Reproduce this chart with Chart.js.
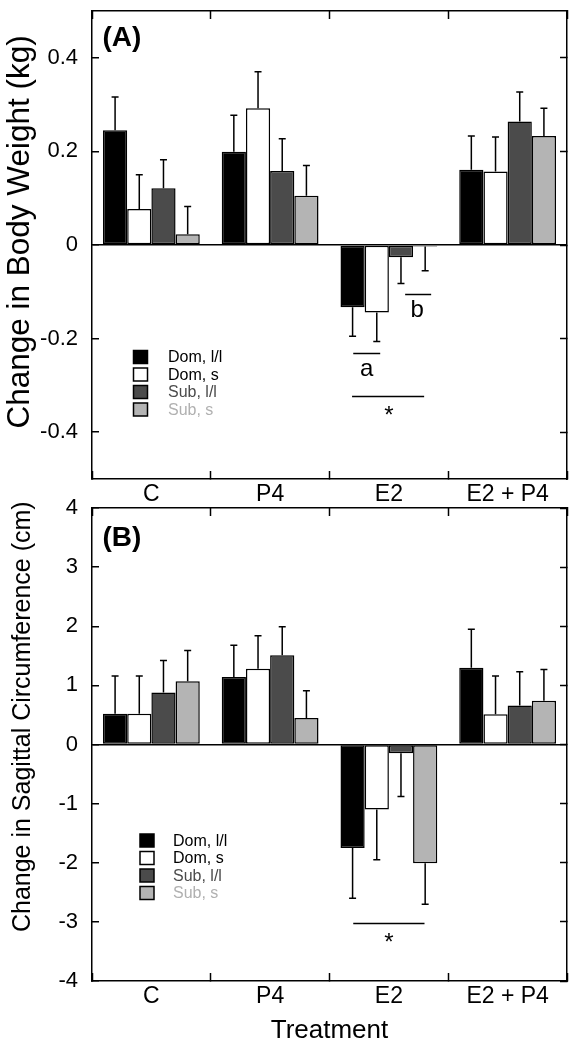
<!DOCTYPE html>
<html>
<head>
<meta charset="utf-8">
<script src="https://cdn.jsdelivr.net/npm/chart.js@4.4.1/dist/chart.umd.min.js"></script>
<style>
  html, body { margin: 0; padding: 0; background: #fff; }
  body { width: 578px; height: 1050px; position: relative; overflow: hidden; }
  .panel { position: absolute; left: 0; width: 578px; }
  #panelA { top: 0; height: 510px; }
  #panelB { top: 490px; height: 560px; }
</style>
</head>
<body>
<div class="panel" id="panelA"><canvas id="chartA"></canvas></div>
<div class="panel" id="panelB"><canvas id="chartB"></canvas></div>
<script>
// categories and groups
const treatments = ['C', 'P4', 'E2', 'E2 + P4'];
const groups = ['Dom, l/l', 'Dom, s', 'Sub, l/l', 'Sub, s'];

// (A) change in body weight, kg
const weightDomLL = [0.245, 0.199, -0.133, 0.161];
const weightDomS  = [0.077, 0.292, -0.144, 0.157];
const weightSubLL = [0.121, 0.158, -0.026, 0.264];
const weightSubS  = [0.023, 0.105, -0.003, 0.233];
const weightErrDomLL = [0.071, 0.078, 0.062, 0.072];
const weightErrDomS  = [0.073, 0.078, 0.062, 0.074];
const weightErrSubLL = [0.061, 0.069, 0.056, 0.063];
const weightErrSubS  = [0.059, 0.065, 0.052, 0.059];
const weightTicks = [-0.4, -0.2, 0, 0.2, 0.4];
const weightTickLabels = ['-0.4', '-0.2', '0', '0.2', '0.4'];

// (B) change in sagittal circumference, cm
const sagDomLL = [0.52, 1.14, -1.75, 1.30];
const sagDomS  = [0.52, 1.28, -1.10, 0.51];
const sagSubLL = [0.88, 1.51, -0.15, 0.66];
const sagSubS  = [1.07, 0.45, -2.01, 0.74];
const sagErrDomLL = [0.64, 0.54, 0.85, 0.65];
const sagErrDomS  = [0.64, 0.56, 0.85, 0.65];
const sagErrSubLL = [0.54, 0.48, 0.73, 0.57];
const sagErrSubS  = [0.52, 0.46, 0.69, 0.53];
const sagTicks = [-4, -3, -2, -1, 0, 1, 2, 3, 4];
const sagTickLabels = ['-4', '-3', '-2', '-1', '0', '1', '2', '3', '4'];

const barColors = ['#000000', '#ffffff', '#4b4b4b', '#b4b4b4'];
const legendTextColors = ['#000000', '#000000', '#4b4b4b', '#b0b0b0'];

const FONT = "'Liberation Sans', Arial, Helvetica, sans-serif";
Chart.defaults.font.family = FONT;
Chart.defaults.color = '#000';

// one-sided error bars, drawn away from zero
const errorBarPlugin = {
    id: 'errorBars',
    afterDatasetsDraw(chart) {
        const ctx = chart.ctx;
        const yScale = chart.scales.y;
        ctx.save();
        ctx.strokeStyle = '#000';
        ctx.lineWidth = 1.5;
        chart.data.datasets.forEach((ds, i) => {
            chart.getDatasetMeta(i).data.forEach((bar, j) => {
                const v = ds.data[j];
                const e = ds.errors[j];
                const end = yScale.getPixelForValue(v >= 0 ? v + e : v - e);
                ctx.beginPath();
                ctx.moveTo(bar.x, bar.y);
                ctx.lineTo(bar.x, end);
                ctx.moveTo(bar.x - 3.5, end);
                ctx.lineTo(bar.x + 3.5, end);
                ctx.stroke();
            });
        });
        ctx.restore();
    }
};

// panel letter, legend box and significance marks
const decorPlugin = {
    id: 'decor',
    afterDraw(chart, args, opts) {
        const ctx = chart.ctx;
        const area = chart.chartArea;
        const xs = chart.scales.x;
        const ys = chart.scales.y;
        ctx.save();

        // panel letter
        ctx.fillStyle = '#000';
        ctx.font = 'bold 28px ' + FONT;
        ctx.textBaseline = 'middle';
        ctx.textAlign = 'left';
        ctx.fillText(opts.letter, area.left + 10.5, area.top + opts.letterDy);

        // legend
        const lx = area.left + opts.legendDx;
        ctx.font = '16px ' + FONT;
        chart.data.datasets.forEach((ds, i) => {
            const cy = area.top + opts.legendDy + i * 17.5;
            ctx.fillStyle = ds.backgroundColor;
            ctx.fillRect(lx, cy - 6.5, 14, 13);
            ctx.strokeStyle = '#000';
            ctx.lineWidth = 1.5;
            ctx.strokeRect(lx, cy - 6.5, 14, 13);
            ctx.fillStyle = legendTextColors[i];
            ctx.fillText(ds.label, lx + opts.legendTextDx, cy + 1);
        });

        // significance marks
        const catW = xs.getPixelForValue(1) - xs.getPixelForValue(0);
        const px = (cat, dx) => xs.getPixelForValue(cat) + dx * catW;
        ctx.strokeStyle = '#000';
        ctx.lineWidth = 1.5;
        ctx.textAlign = 'center';
        ctx.textBaseline = 'alphabetic';
        opts.marks.forEach(m => {
            if (m.type === 'line') {
                const y = Math.round(ys.getPixelForValue(m.y)) + 0.5;
                ctx.beginPath();
                ctx.moveTo(px(m.cat, m.dx0), y);
                ctx.lineTo(px(m.cat, m.dx1), y);
                ctx.stroke();
            } else {
                ctx.fillStyle = '#000';
                ctx.font = '24px ' + FONT;
                ctx.fillText(m.text, px(m.cat, m.dx), ys.getPixelForValue(m.y));
            }
        });
        ctx.restore();
    }
};

function makePanel(canvasId, p) {
    const datasets = p.values.map((vals, i) => ({
        label: groups[i],
        data: vals,
        errors: p.errors[i],
        backgroundColor: barColors[i],
        borderColor: '#000',
        borderWidth: 1.5,
        borderSkipped: false,
        categoryPercentage: 0.815,
        barPercentage: 1.0
    }));

    const setTicks = scale => {
        scale.ticks = p.ticks.map(v => ({ value: v }));
    };
    const tickLabel = v => {
        const k = p.ticks.indexOf(v);
        return k >= 0 ? p.tickLabels[k] : '';
    };

    return new Chart(document.getElementById(canvasId), {
        type: 'bar',
        data: { labels: treatments, datasets: datasets },
        options: {
            responsive: true,
            maintainAspectRatio: false,
            animation: false,
            layout: { padding: { top: p.padTop, right: 11, left: 0, bottom: 0 } },
            plugins: {
                legend: { display: false },
                tooltip: { enabled: false },
                decor: p.decor
            },
            scales: {
                x: {
                    type: 'category',
                    offset: true,
                    grid: { offset: true, drawOnChartArea: false, drawTicks: true,
                            tickLength: -8, tickColor: '#000', tickWidth: 1.5 },
                    border: { display: true, color: '#000', width: 1.5 },
                    ticks: { font: { size: 23 }, color: '#000', padding: p.xTickPad,
                             maxRotation: 0, autoSkip: false },
                    title: {
                        display: !!p.xTitle,
                        text: p.xTitle || '',
                        font: { size: 26 },
                        color: '#000',
                        padding: { top: 0, bottom: 4 }
                    },
                    afterFit: s => { s.height = p.xHeight; s.paddingLeft = 0; s.paddingRight = 0; }
                },
                x2: {
                    type: 'category',
                    position: 'top',
                    offset: true,
                    grid: { offset: true, drawOnChartArea: false, drawTicks: true,
                            tickLength: -8, tickColor: '#000', tickWidth: 1.5 },
                    border: { display: true, color: '#000', width: 1.5 },
                    ticks: { display: false },
                    afterFit: s => { s.height = 0; s.paddingLeft = 0; s.paddingRight = 0; }
                },
                y: {
                    min: p.min,
                    max: p.max,
                    afterBuildTicks: setTicks,
                    grid: {
                        drawOnChartArea: true,
                        color: c => (c.tick && c.tick.value === 0 ? '#000' : 'rgba(0,0,0,0)'),
                        lineWidth: 1.5,
                        drawTicks: true,
                        tickLength: -7,
                        tickColor: '#000',
                        tickWidth: 1.5
                    },
                    border: { display: true, color: '#000', width: 1.5 },
                    ticks: { font: { size: 22 }, color: '#000', padding: 21, callback: tickLabel },
                    title: {
                        display: true,
                        text: p.yTitle,
                        font: { size: p.yTitleSize },
                        color: '#000',
                        padding: { top: p.yTitlePad, bottom: 0 }
                    },
                    afterFit: s => { s.width = 92; s.paddingTop = 0; s.paddingBottom = 0; }
                },
                y2: {
                    position: 'right',
                    min: p.min,
                    max: p.max,
                    afterBuildTicks: setTicks,
                    grid: { drawOnChartArea: false, drawTicks: true, tickLength: -7,
                            tickColor: '#000', tickWidth: 1.5 },
                    border: { display: true, color: '#000', width: 1.5 },
                    ticks: { display: false },
                    afterFit: s => { s.width = 0; s.paddingTop = 0; s.paddingBottom = 0; }
                }
            }
        },
        plugins: [errorBarPlugin, decorPlugin]
    });
}

const NB = '\u00A0';

makePanel('chartA', {
    values: [weightDomLL, weightDomS, weightSubLL, weightSubS],
    errors: [weightErrDomLL, weightErrDomS, weightErrSubLL, weightErrSubS],
    ticks: weightTicks,
    tickLabels: weightTickLabels,
    min: -0.5,
    max: 0.5,
    padTop: 11,
    xHeight: 31,
    xTickPad: 10,
    yTitle: NB.repeat(3) + 'Change in Body Weight (kg)',
    yTitleSize: 31.5,
    yTitlePad: 1,
    decor: {
        letter: '(A)', letterDy: 27,
        legendDx: 41.5, legendDy: 346, legendTextDx: 34.5,
        marks: [
            { type: 'line', cat: 2, dx0: -0.30, dx1: -0.073, y: -0.231 },
            { type: 'text', cat: 2, dx: -0.187, y: -0.279, text: 'a' },
            { type: 'line', cat: 2, dx0: 0.137, dx1: 0.356, y: -0.104 },
            { type: 'text', cat: 2, dx: 0.238, y: -0.154, text: 'b' },
            { type: 'line', cat: 2, dx0: -0.31, dx1: 0.297, y: -0.322 },
            { type: 'text', cat: 2, dx: 0, y: -0.380, text: '*' }
        ]
    }
});

makePanel('chartB', {
    values: [sagDomLL, sagDomS, sagSubLL, sagSubS],
    errors: [sagErrDomLL, sagErrDomS, sagErrSubLL, sagErrSubS],
    ticks: sagTicks,
    tickLabels: sagTickLabels,
    min: -4,
    max: 4,
    padTop: 18,
    xHeight: 69,
    xTickPad: 10,
    xTitle: 'Treatment',
    yTitle: NB.repeat(8) + 'Change in Sagittal Circumference (cm)',
    yTitleSize: 25,
    yTitlePad: 8,
    decor: {
        letter: '(B)', letterDy: 30,
        legendDx: 48, legendDy: 332.5, legendTextDx: 33,
        marks: [
            { type: 'line', cat: 2, dx0: -0.30, dx1: 0.30, y: -3.02 },
            { type: 'text', cat: 2, dx: 0, y: -3.48, text: '*' }
        ]
    }
});
</script>
</body>
</html>
